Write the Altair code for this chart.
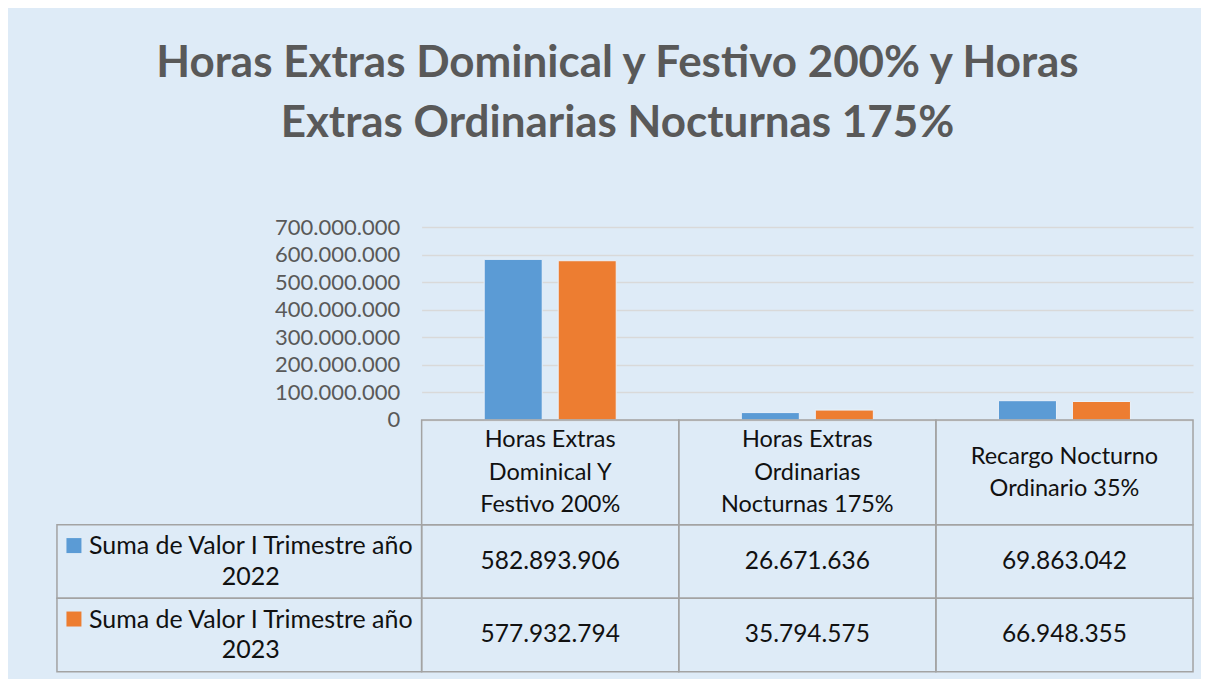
import altair as alt
import pandas as pd

# ---- data ----
categories = [
    "Horas Extras Dominical Y Festivo 200%",
    "Horas Extras Ordinarias Nocturnas 175%",
    "Recargo Nocturno Ordinario 35%",
]
header_lines = [
    ["Horas Extras", "Dominical Y", "Festivo 200%"],
    ["Horas Extras", "Ordinarias", "Nocturnas 175%"],
    ["Recargo Nocturno", "Ordinario 35%"],
]
series = ["Suma de Valor I Trimestre año 2022", "Suma de Valor I Trimestre año 2023"]
series_lines = [
    ["Suma de Valor I Trimestre año", "2022"],
    ["Suma de Valor I Trimestre año", "2023"],
]
values_2022 = [582893906, 26671636, 69863042]
values_2023 = [577932794, 35794575, 66948355]
y_ticks = [0, 100000000, 200000000, 300000000, 400000000, 500000000, 600000000, 700000000]
title_lines = ["Horas Extras Dominical y Festivo 200% y Horas", "Extras Ordinarias Nocturnas 175%"]

colors = ["#5B9BD5", "#ED7D31"]
BG = "#DEEBF7"
GRID = "#D9D9D9"
LINE = "#A3A3A3"
FONT = "Lato"
TXT = "#111111"

rows = []
for s, vals in zip(series, [values_2022, values_2023]):
    for c, v in zip(categories, vals):
        rows.append({"category": c, "series": s, "value": v})
df = pd.DataFrame(rows)
df_cat = pd.DataFrame({"category": categories, "lines": header_lines})
df_ser = pd.DataFrame({"series": series, "lines": series_lines})

x_scale = alt.Scale(domain=categories, paddingInner=0, paddingOuter=0)
color_scale = alt.Scale(domain=series, range=colors)

bars = alt.Chart(df).mark_bar(stroke="#EAF1FA", strokeWidth=1).encode(
    x=alt.X("category:N", sort=categories, scale=x_scale, axis=None),
    xOffset=alt.XOffset("series:N", sort=series,
                        scale=alt.Scale(domain=series, paddingInner=0.216, paddingOuter=0.845)),
    y=alt.Y("value:Q", scale=alt.Scale(domain=[0, 700000000], nice=False),
            axis=alt.Axis(values=y_ticks, format=",.0f", title=None, domain=False, ticks=False,
                          labelPadding=22, labelFont=FONT, labelFontSize=22, labelColor="#595959",
                          gridColor=GRID, gridWidth=1.5)),
    color=alt.Color("series:N", scale=color_scale, legend=None),
).properties(
    width=772, height=193,
    title=alt.Title(title_lines, font=FONT, fontSize=44, fontWeight="bold", color="#595959",
                    lineHeight=60, anchor="middle", frame="group", dx=-190, offset=70),
)

y_rows = alt.Scale(domain=series, range=[105, 252], paddingInner=0, paddingOuter=0)
y_pix = alt.Scale(domain=[0, 252], range=[0, 252])

header_cells = alt.Chart(df_cat).mark_rect(fill=None, stroke=LINE, strokeWidth=1.5).encode(
    x=alt.X("category:N", sort=categories, scale=x_scale, axis=None),
    y=alt.value(0), y2=alt.value(105),
)
header_text = alt.Chart(df_cat).transform_calculate(
    ypos="53 - (length(datum.lines) - 1) * 16.25"
).mark_text(font=FONT, fontSize=23.5, color=TXT, lineHeight=32.5, baseline="middle").encode(
    x=alt.X("category:N", sort=categories, scale=x_scale, axis=None),
    y=alt.Y("ypos:Q", scale=y_pix, axis=None),
    text="lines",
)
value_cells = alt.Chart(df).mark_rect(fill=None, stroke=LINE, strokeWidth=1.5).encode(
    x=alt.X("category:N", sort=categories, scale=x_scale, axis=None),
    y=alt.Y("series:N", sort=series, scale=y_rows, axis=None),
)
value_text = alt.Chart(df).mark_text(font=FONT, fontSize=24.5, color=TXT).encode(
    x=alt.X("category:N", sort=categories, scale=x_scale, axis=None),
    y=alt.Y("series:N", sort=series, scale=y_rows, axis=None),
    text=alt.Text("value:Q", format=",.0f"),
)
left_cells = alt.Chart(df_ser).mark_rect(fill=None, stroke=LINE, strokeWidth=1.5).encode(
    x=alt.value(-365), x2=alt.value(0),
    y=alt.Y("series:N", sort=series, scale=y_rows, axis=None),
)
left_text = alt.Chart(df_ser).mark_text(font=FONT, fontSize=25, color=TXT,
                                        lineHeight=31, baseline="middle", dy=-15.5).encode(
    x=alt.value(-171),
    y=alt.Y("series:N", sort=series, scale=y_rows, axis=None),
    text="lines",
)
left_keys = alt.Chart(df_ser).mark_square(size=225, opacity=1, yOffset=-16).encode(
    x=alt.value(-348),
    y=alt.Y("series:N", sort=series, scale=y_rows, axis=None),
    color=alt.Color("series:N", scale=color_scale, legend=None),
)

table = alt.layer(header_cells, value_cells, left_cells, left_keys,
                  header_text, value_text, left_text).resolve_scale(
    y="independent").properties(width=772, height=252)

chart = alt.vconcat(bars, table, spacing=0, bounds="flush").properties(
    padding={"left": 48, "top": 34, "right": 7, "bottom": 7},
    background=BG,
).configure(
    locale=alt.Locale(number=alt.NumberLocale(decimal=",", thousands=".", grouping=[3],
                                              currency=["$", ""])),
).configure_view(stroke=None)

chart.save("out.html", embed_options={"renderer": "svg", "actions": False})
